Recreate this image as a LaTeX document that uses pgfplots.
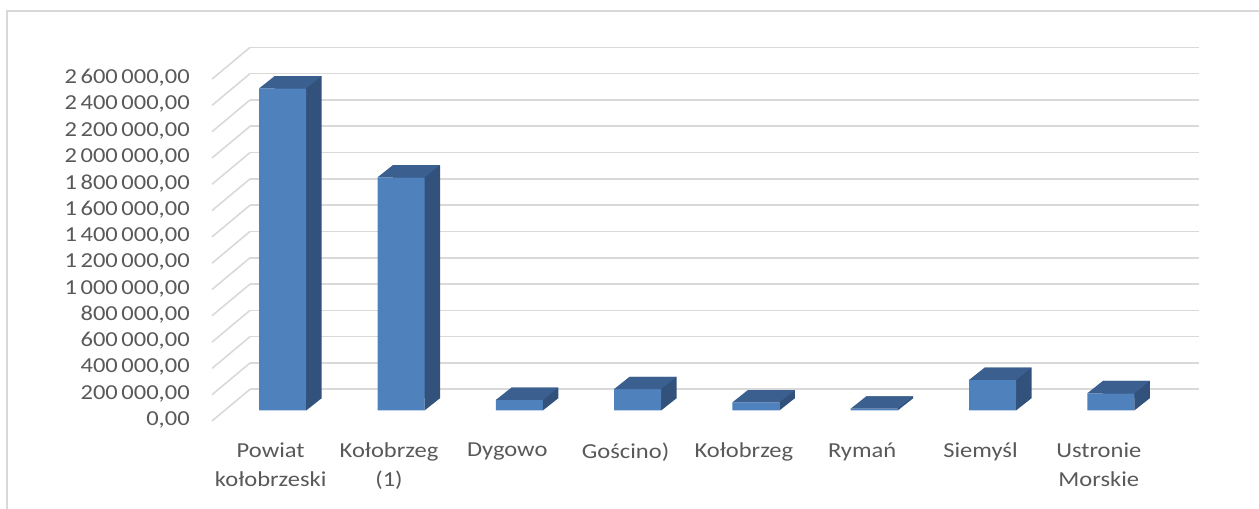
\documentclass[border=0pt]{standalone}
\usepackage{pgfplots}
\pgfplotsset{compat=1.18}
\usepackage{fontspec}
\setmainfont{Carlito}[FakeStretch=1.15]
\definecolor{front}{HTML}{4F81BD}
\definecolor{side}{HTML}{32527C}
\definecolor{topc}{HTML}{3B6090}
\definecolor{gridc}{HTML}{D9D9D9}
\definecolor{txt}{HTML}{595959}
\pgfdeclareplotmark{barTop}{%
 \pgfpathmoveto{\pgfqpoint{-17.625pt}{0pt}}%
 \pgfpathlineto{\pgfqpoint{17.625pt}{0pt}}%
 \pgfpathlineto{\pgfqpoint{29.25pt}{9.225pt}}%
 \pgfpathlineto{\pgfqpoint{-6pt}{9.225pt}}%
 \pgfpathclose\pgfusepathqfill}
\pgfdeclareplotmark{barFoot}{%
 \pgfpathmoveto{\pgfqpoint{17.625pt}{0pt}}%
 \pgfpathlineto{\pgfqpoint{29.25pt}{9.225pt}}%
 \pgfpathlineto{\pgfqpoint{17.625pt}{9.225pt}}%
 \pgfpathclose\pgfusepathqfill}
\pgfplotstableread{
x y
0 2450000
1 1773000
2 80000
3 163000
4 62000
5 14000
6 232000
7 131000
}\bars
\pgfplotstableread{
x y
0 0
1 0
2 0
3 0
4 0
5 0
6 0
7 0
}\feet
\begin{document}
\begin{tikzpicture}
\useasboundingbox (0,0) rectangle (944.25pt,381.75pt);
\draw[gridc, line width=1.5pt] (5.25pt,0) -- (5.25pt,373.5pt) -- (944.25pt,373.5pt);
% back wall
\begin{axis}[
  at={(187.5pt,89.775pt)}, anchor=south west,
  scale only axis, width=711.5pt, height=256.43pt,
  xmin=0, xmax=1, ymin=0, ymax=2600000,
  clip=false,
  axis line style={draw=none},
  xtick=\empty,
  ytick={0,200000,...,2600000},
  ymajorgrids, grid style={gridc, line width=1.2pt},
  major tick length=0pt,
  scaled y ticks=false,
  yticklabel style={anchor=east, inner sep=0pt, xshift=-45pt, yshift=-23pt,
    font=\fontsize{16}{19}\selectfont, text=txt,
    /pgf/number format/.cd, fixed, fixed zerofill, precision=2, use comma, 1000 sep={\,}, assume math mode=true},
]
\addplot[gridc, line width=1.2pt] coordinates {(-0.04005,-241000) (0,0)};
\addplot[gridc, line width=1.2pt] coordinates {(-0.04005,-41000) (0,200000)};
\addplot[gridc, line width=1.2pt] coordinates {(-0.04005,159000) (0,400000)};
\addplot[gridc, line width=1.2pt] coordinates {(-0.04005,359000) (0,600000)};
\addplot[gridc, line width=1.2pt] coordinates {(-0.04005,559000) (0,800000)};
\addplot[gridc, line width=1.2pt] coordinates {(-0.04005,759000) (0,1000000)};
\addplot[gridc, line width=1.2pt] coordinates {(-0.04005,959000) (0,1200000)};
\addplot[gridc, line width=1.2pt] coordinates {(-0.04005,1159000) (0,1400000)};
\addplot[gridc, line width=1.2pt] coordinates {(-0.04005,1359000) (0,1600000)};
\addplot[gridc, line width=1.2pt] coordinates {(-0.04005,1559000) (0,1800000)};
\addplot[gridc, line width=1.2pt] coordinates {(-0.04005,1759000) (0,2000000)};
\addplot[gridc, line width=1.2pt] coordinates {(-0.04005,1959000) (0,2200000)};
\addplot[gridc, line width=1.2pt] coordinates {(-0.04005,2159000) (0,2400000)};
\addplot[gridc, line width=1.2pt] coordinates {(-0.04005,2359000) (0,2600000)};
\end{axis}
% side (shifted back rectangles)
\begin{axis}[
  at={(179.285pt,83.1pt)}, anchor=south west,
  scale only axis, width=709.8pt, height=256.43pt,
  xmin=-0.5, xmax=7.5, ymin=0, ymax=2600000,
  hide axis, clip=false,
]
\addplot[ybar, bar width=35.25pt, fill=side, draw=none] table[x=x,y=y] {\bars};
\end{axis}
% front
\begin{axis}[
  at={(167.66pt,73.875pt)}, anchor=south west,
  scale only axis, width=709.8pt, height=256.43pt,
  xmin=-0.5, xmax=7.5, ymin=0, ymax=2600000,
  clip=false,
  axis line style={draw=none},
  major tick length=0pt,
  ytick=\empty,
  xtick={0,...,7},
  xticklabels={{Powiat\\kołobrzeski},{Kołobrzeg\\(1)},Dygowo,Gościno),Kołobrzeg,Rymań,Siemyśl,{Ustronie\\Morskie}},
  xticklabel style={align=center, anchor=north, inner sep=0pt, xshift=-9pt, yshift=-24pt,
    font=\fontsize{16}{21.75}\selectfont, text=txt},
]
\addplot[ybar, bar width=35.25pt, fill=front, draw=none] table[x=x,y=y] {\bars};
\addplot[only marks, mark=barFoot, color=side, mark options={fill=side, draw=none}] table[x=x,y=y] {\feet};
\addplot[only marks, mark=barTop, color=topc, mark options={fill=topc, draw=none}] table[x=x,y=y] {\bars};
\end{axis}
\end{tikzpicture}
\end{document}
